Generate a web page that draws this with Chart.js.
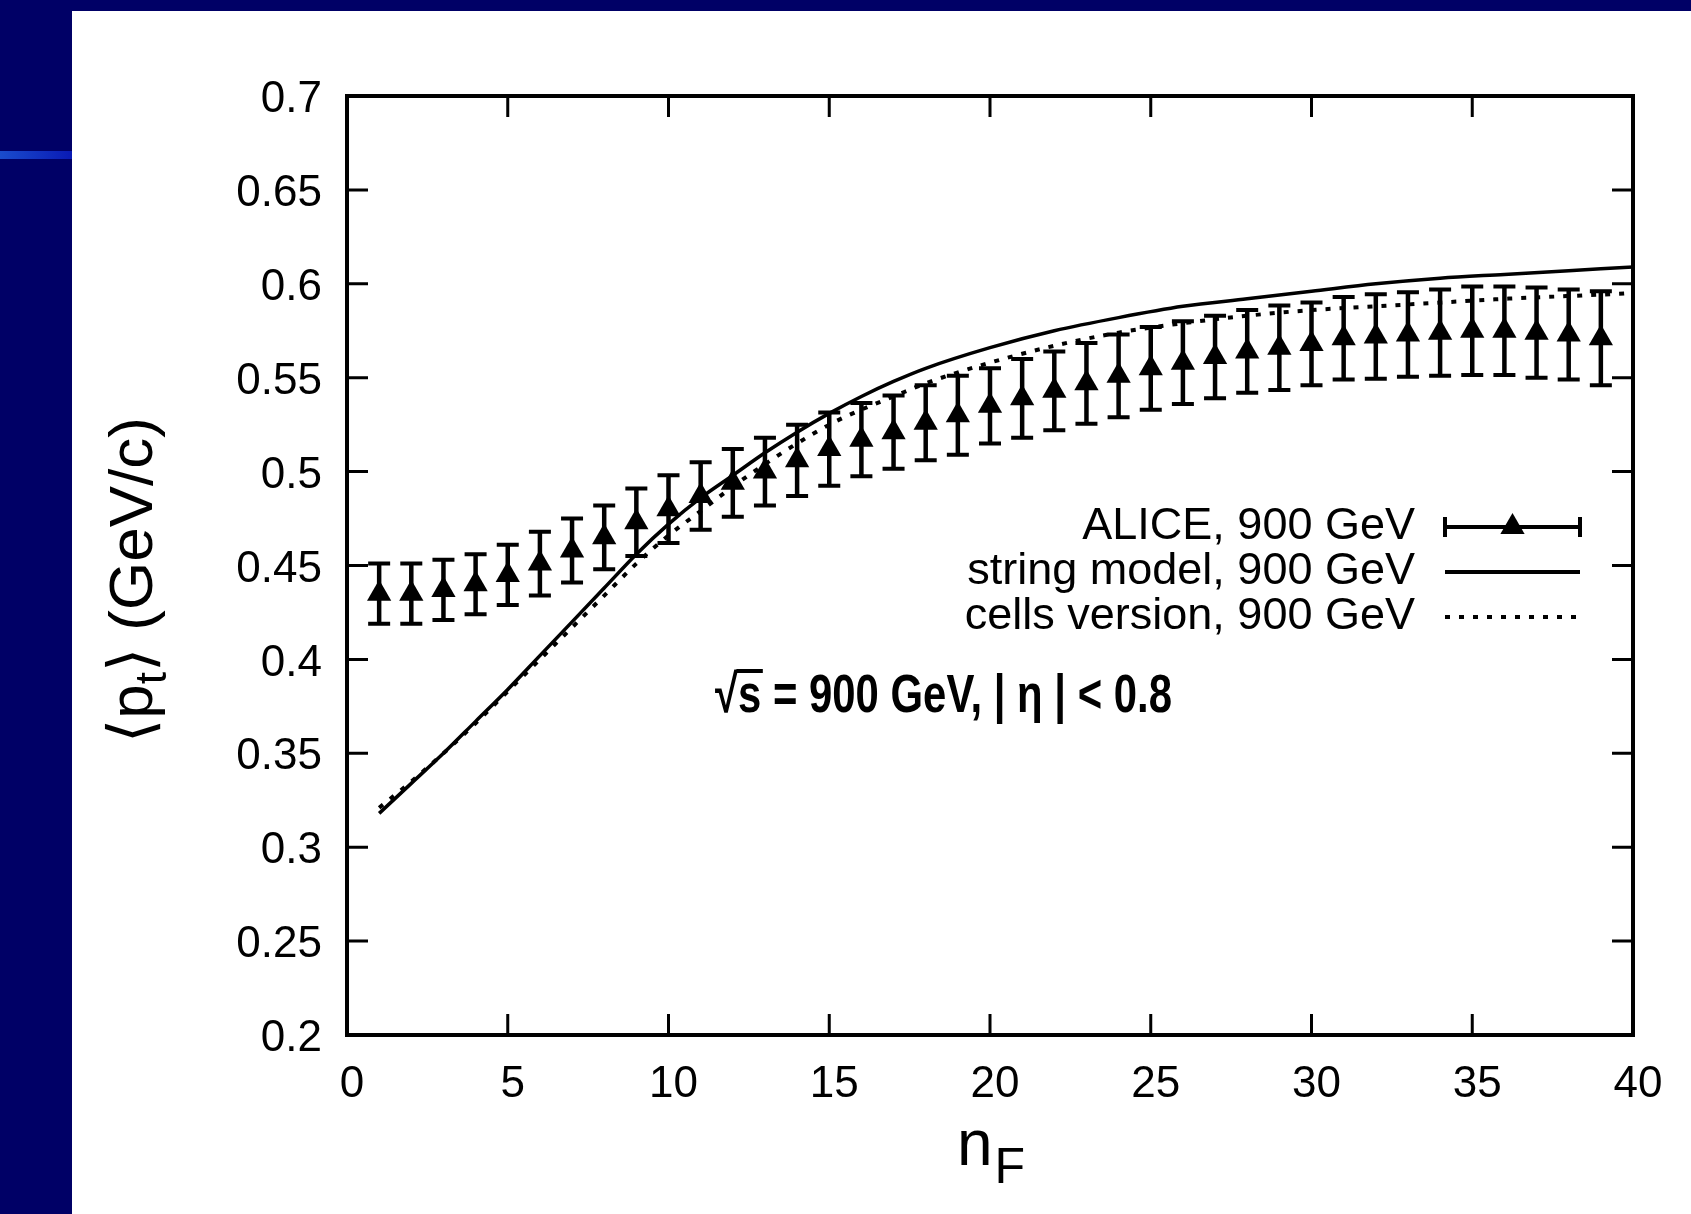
<!DOCTYPE html>
<html>
<head>
<meta charset="utf-8">
<script src="https://cdn.jsdelivr.net/npm/chart.js@4.4.0/dist/chart.umd.min.js"></script>
<style>
  html, body { margin: 0; padding: 0; }
  body { width: 1691px; height: 1214px; background: #000066; position: relative; overflow: hidden; }
  #accent { position: absolute; left: 0; top: 151px; width: 72px; height: 8px; background: linear-gradient(to right, #1a4ccc, #0a1ab4); }
  #panel { position: absolute; left: 72px; top: 11px; width: 1619px; height: 1203px; background: #fff; }
  canvas { display: block; }
</style>
</head>
<body>
<div id="accent"></div>
<div id="panel"><canvas id="chart" width="1619" height="1203"></canvas></div>
<script>
// ALICE data points (n_F, mean pt, error)
const nF = [1, 2, 3, 4, 5, 6, 7, 8, 9, 10, 11, 12, 13, 14, 15, 16, 17, 18, 19, 20,
            21, 22, 23, 24, 25, 26, 27, 28, 29, 30, 31, 32, 33, 34, 35, 36, 37, 38, 39];
const aliceMean = [0.435, 0.435, 0.437, 0.440, 0.445, 0.451, 0.458, 0.465, 0.473, 0.480,
                   0.487, 0.494, 0.500, 0.506, 0.512, 0.517, 0.521, 0.526, 0.530, 0.535,
                   0.539, 0.543, 0.547, 0.551, 0.555, 0.558, 0.561, 0.564, 0.566, 0.568,
                   0.571, 0.572, 0.573, 0.574, 0.575, 0.575, 0.574, 0.573, 0.571];
const aliceErr = [0.016, 0.016, 0.016, 0.016, 0.016, 0.017, 0.017, 0.017, 0.018, 0.018,
                  0.018, 0.018, 0.018, 0.019, 0.0195, 0.0195, 0.0195, 0.020, 0.021, 0.020,
                  0.021, 0.021, 0.0215, 0.022, 0.022, 0.022, 0.022, 0.022, 0.0225, 0.022,
                  0.022, 0.0225, 0.0225, 0.023, 0.0235, 0.0235, 0.024, 0.024, 0.025];

// model curves
const curveN = [1, 2, 3, 4, 5, 6, 7, 8, 9, 10, 11, 12, 13, 14, 15, 16, 17, 18,
                20, 22, 24, 26, 28, 30, 32, 34, 36, 38, 40];
const stringModel = [0.318, 0.334, 0.350, 0.367, 0.384, 0.402, 0.420, 0.438, 0.456, 0.472,
                     0.486, 0.498, 0.510, 0.521, 0.531, 0.540, 0.548, 0.555,
                     0.566, 0.575, 0.582, 0.588, 0.592, 0.596, 0.600, 0.603, 0.605, 0.607, 0.609];
const cellsVersion = [0.321, 0.335, 0.350, 0.366, 0.383, 0.400, 0.417, 0.434, 0.451, 0.466,
                      0.479, 0.492, 0.504, 0.515, 0.525, 0.533, 0.540, 0.547,
                      0.558, 0.567, 0.574, 0.579, 0.583, 0.586, 0.588, 0.590, 0.592, 0.5935, 0.595];

const legendLabels = ["ALICE, 900 GeV", "string model, 900 GeV", "cells version, 900 GeV"];
const noteText = "√s = 900 GeV, | η | < 0.8";

const FONT = '"Liberation Sans", Arial, "DejaVu Sans", sans-serif';

const decor = {
  id: 'decor',
  beforeDatasetsDraw(chart) {
    // error bars for ALICE points
    const { ctx, scales: { x, y } } = chart;
    ctx.save();
    ctx.strokeStyle = '#000';
    nF.forEach((n, i) => {
      const px = x.getPixelForValue(n);
      const top = y.getPixelForValue(aliceMean[i] + aliceErr[i]);
      const bot = y.getPixelForValue(aliceMean[i] - aliceErr[i]);
      ctx.lineWidth = 4.5;
      ctx.beginPath(); ctx.moveTo(px, top); ctx.lineTo(px, bot); ctx.stroke();
      ctx.lineWidth = 4;
      ctx.beginPath();
      ctx.moveTo(px - 11, top); ctx.lineTo(px + 11, top);
      ctx.moveTo(px - 11, bot); ctx.lineTo(px + 11, bot);
      ctx.stroke();
    });
    ctx.restore();
  },
  afterDraw(chart) {
    const { ctx, chartArea: a, scales: { x, y } } = chart;
    ctx.save();
    ctx.strokeStyle = '#000';
    ctx.fillStyle = '#000';

    // frame
    ctx.lineWidth = 4;
    ctx.strokeRect(a.left, a.top, a.right - a.left, a.bottom - a.top);

    // inward ticks on all four sides
    ctx.lineWidth = 3;
    ctx.beginPath();
    y.ticks.forEach(t => {
      const py = y.getPixelForValue(t.value);
      ctx.moveTo(a.left, py); ctx.lineTo(a.left + 21, py);
      ctx.moveTo(a.right, py); ctx.lineTo(a.right - 21, py);
    });
    x.ticks.forEach(t => {
      const px = x.getPixelForValue(t.value);
      ctx.moveTo(px, a.bottom); ctx.lineTo(px, a.bottom - 21);
      ctx.moveTo(px, a.top); ctx.lineTo(px, a.top + 21);
    });
    ctx.stroke();

    // legend
    const rows = [516, 561, 606];
    const tx = 1343, s1 = 1373, s2 = 1508;
    ctx.font = '45px ' + FONT;
    ctx.textAlign = 'right';
    ctx.textBaseline = 'middle';
    legendLabels.forEach((t, i) => ctx.fillText(t, tx, rows[i]));
    // ALICE sample
    ctx.lineWidth = 4;
    ctx.beginPath();
    ctx.moveTo(s1, rows[0]); ctx.lineTo(s2, rows[0]);
    ctx.moveTo(s1, rows[0] - 10); ctx.lineTo(s1, rows[0] + 10);
    ctx.moveTo(s2, rows[0] - 10); ctx.lineTo(s2, rows[0] + 10);
    ctx.stroke();
    const cx = (s1 + s2) / 2, r = 14;
    ctx.beginPath();
    ctx.moveTo(cx, rows[0] - r);
    ctx.lineTo(cx + r * 0.866, rows[0] + r / 2);
    ctx.lineTo(cx - r * 0.866, rows[0] + r / 2);
    ctx.closePath(); ctx.fill();
    // string model sample
    ctx.beginPath(); ctx.moveTo(s1, rows[1]); ctx.lineTo(s2, rows[1]); ctx.stroke();
    // cells version sample
    ctx.setLineDash([5, 9]);
    ctx.beginPath(); ctx.moveTo(s1, rows[2]); ctx.lineTo(s2, rows[2]); ctx.stroke();
    ctx.setLineDash([]);

    // annotation
    ctx.save();
    ctx.font = 'bold 54px ' + FONT;
    ctx.textAlign = 'left';
    ctx.textBaseline = 'alphabetic';
    const nw = ctx.measureText(noteText).width;
    const sx = 457 / nw;
    ctx.translate(643, 701);
    ctx.scale(sx, 1);
    ctx.fillText(noteText, 0, 0);
    const rw = ctx.measureText('√').width, sw = ctx.measureText('√s').width;
    ctx.lineWidth = 4;
    ctx.beginPath(); ctx.moveTo(rw - 2, -41); ctx.lineTo(sw + 2, -41); ctx.stroke();
    ctx.restore();

    // y axis title  <p_t> (GeV/c)
    ctx.save();
    ctx.translate(80, 569);
    ctx.rotate(-Math.PI / 2);
    ctx.textAlign = 'left';
    ctx.textBaseline = 'alphabetic';
    const big = '62px ' + FONT, small = '44px ' + FONT;
    ctx.font = big; const w1 = ctx.measureText('⟨p').width;
    ctx.font = small; const w2 = ctx.measureText('t').width;
    ctx.font = big; const w3 = ctx.measureText('⟩ (GeV/c)').width;
    let px0 = -(w1 + w2 + w3) / 2;
    ctx.font = big; ctx.fillText('⟨p', px0, 0);
    ctx.font = small; ctx.fillText('t', px0 + w1, 14);
    ctx.font = big; ctx.fillText('⟩ (GeV/c)', px0 + w1 + w2, 0);
    ctx.restore();

    // x axis title  n_F
    ctx.save();
    ctx.textAlign = 'left';
    ctx.textBaseline = 'alphabetic';
    ctx.font = '64px ' + FONT; const nw1 = ctx.measureText('n').width;
    ctx.font = '50px ' + FONT; const nw2 = ctx.measureText('F').width;
    const xc = (a.left + a.right) / 2 - (nw1 + nw2) / 2;
    ctx.font = '64px ' + FONT; ctx.fillText('n', xc, 1154);
    ctx.font = '50px ' + FONT; ctx.fillText('F', xc + nw1 + 2, 1172);
    ctx.restore();

    ctx.restore();
  }
};

Chart.defaults.color = '#000';

new Chart(document.getElementById('chart'), {
  type: 'scatter',
  data: {
    datasets: [
      {
        label: legendLabels[0],
        data: nF.map((n, i) => ({ x: n, y: aliceMean[i] })),
        pointStyle: 'triangle',
        pointRadius: 14,
        pointBackgroundColor: '#000',
        pointBorderColor: '#000',
        pointBorderWidth: 0,
        showLine: false
      },
      {
        label: legendLabels[1],
        data: curveN.map((n, i) => ({ x: n, y: stringModel[i] })),
        showLine: true,
        borderColor: '#000',
        borderWidth: 3.5,
        pointRadius: 0,
        cubicInterpolationMode: 'monotone'
      },
      {
        label: legendLabels[2],
        data: curveN.map((n, i) => ({ x: n, y: cellsVersion[i] })),
        showLine: true,
        borderColor: '#000',
        borderWidth: 4,
        borderDash: [5, 9],
        pointRadius: 0,
        cubicInterpolationMode: 'monotone'
      }
    ]
  },
  options: {
    responsive: false,
    animation: false,
    devicePixelRatio: 1,
    events: [],
    layout: { padding: { left: 0, top: 85, right: 58, bottom: 0 } },
    plugins: { legend: { display: false }, tooltip: { enabled: false } },
    scales: {
      x: {
        type: 'linear', min: 0, max: 40,
        afterFit: s => { s.height = 179; },
        grid: { display: false, drawTicks: false },
        border: { display: false },
        ticks: { stepSize: 5, padding: 23, labelOffset: 5, maxRotation: 0, autoSkip: false,
                 font: { family: FONT, size: 44 } }
      },
      y: {
        type: 'linear', min: 0.2, max: 0.7,
        afterFit: s => { s.width = 275; },
        grid: { display: false, drawTicks: false },
        border: { display: false },
        ticks: { stepSize: 0.05, padding: 25, labelOffset: 4, autoSkip: false,
                 font: { family: FONT, size: 44 },
                 callback: v => String(+v.toFixed(2)) }
      }
    }
  },
  plugins: [decor]
});
</script>
</body>
</html>
